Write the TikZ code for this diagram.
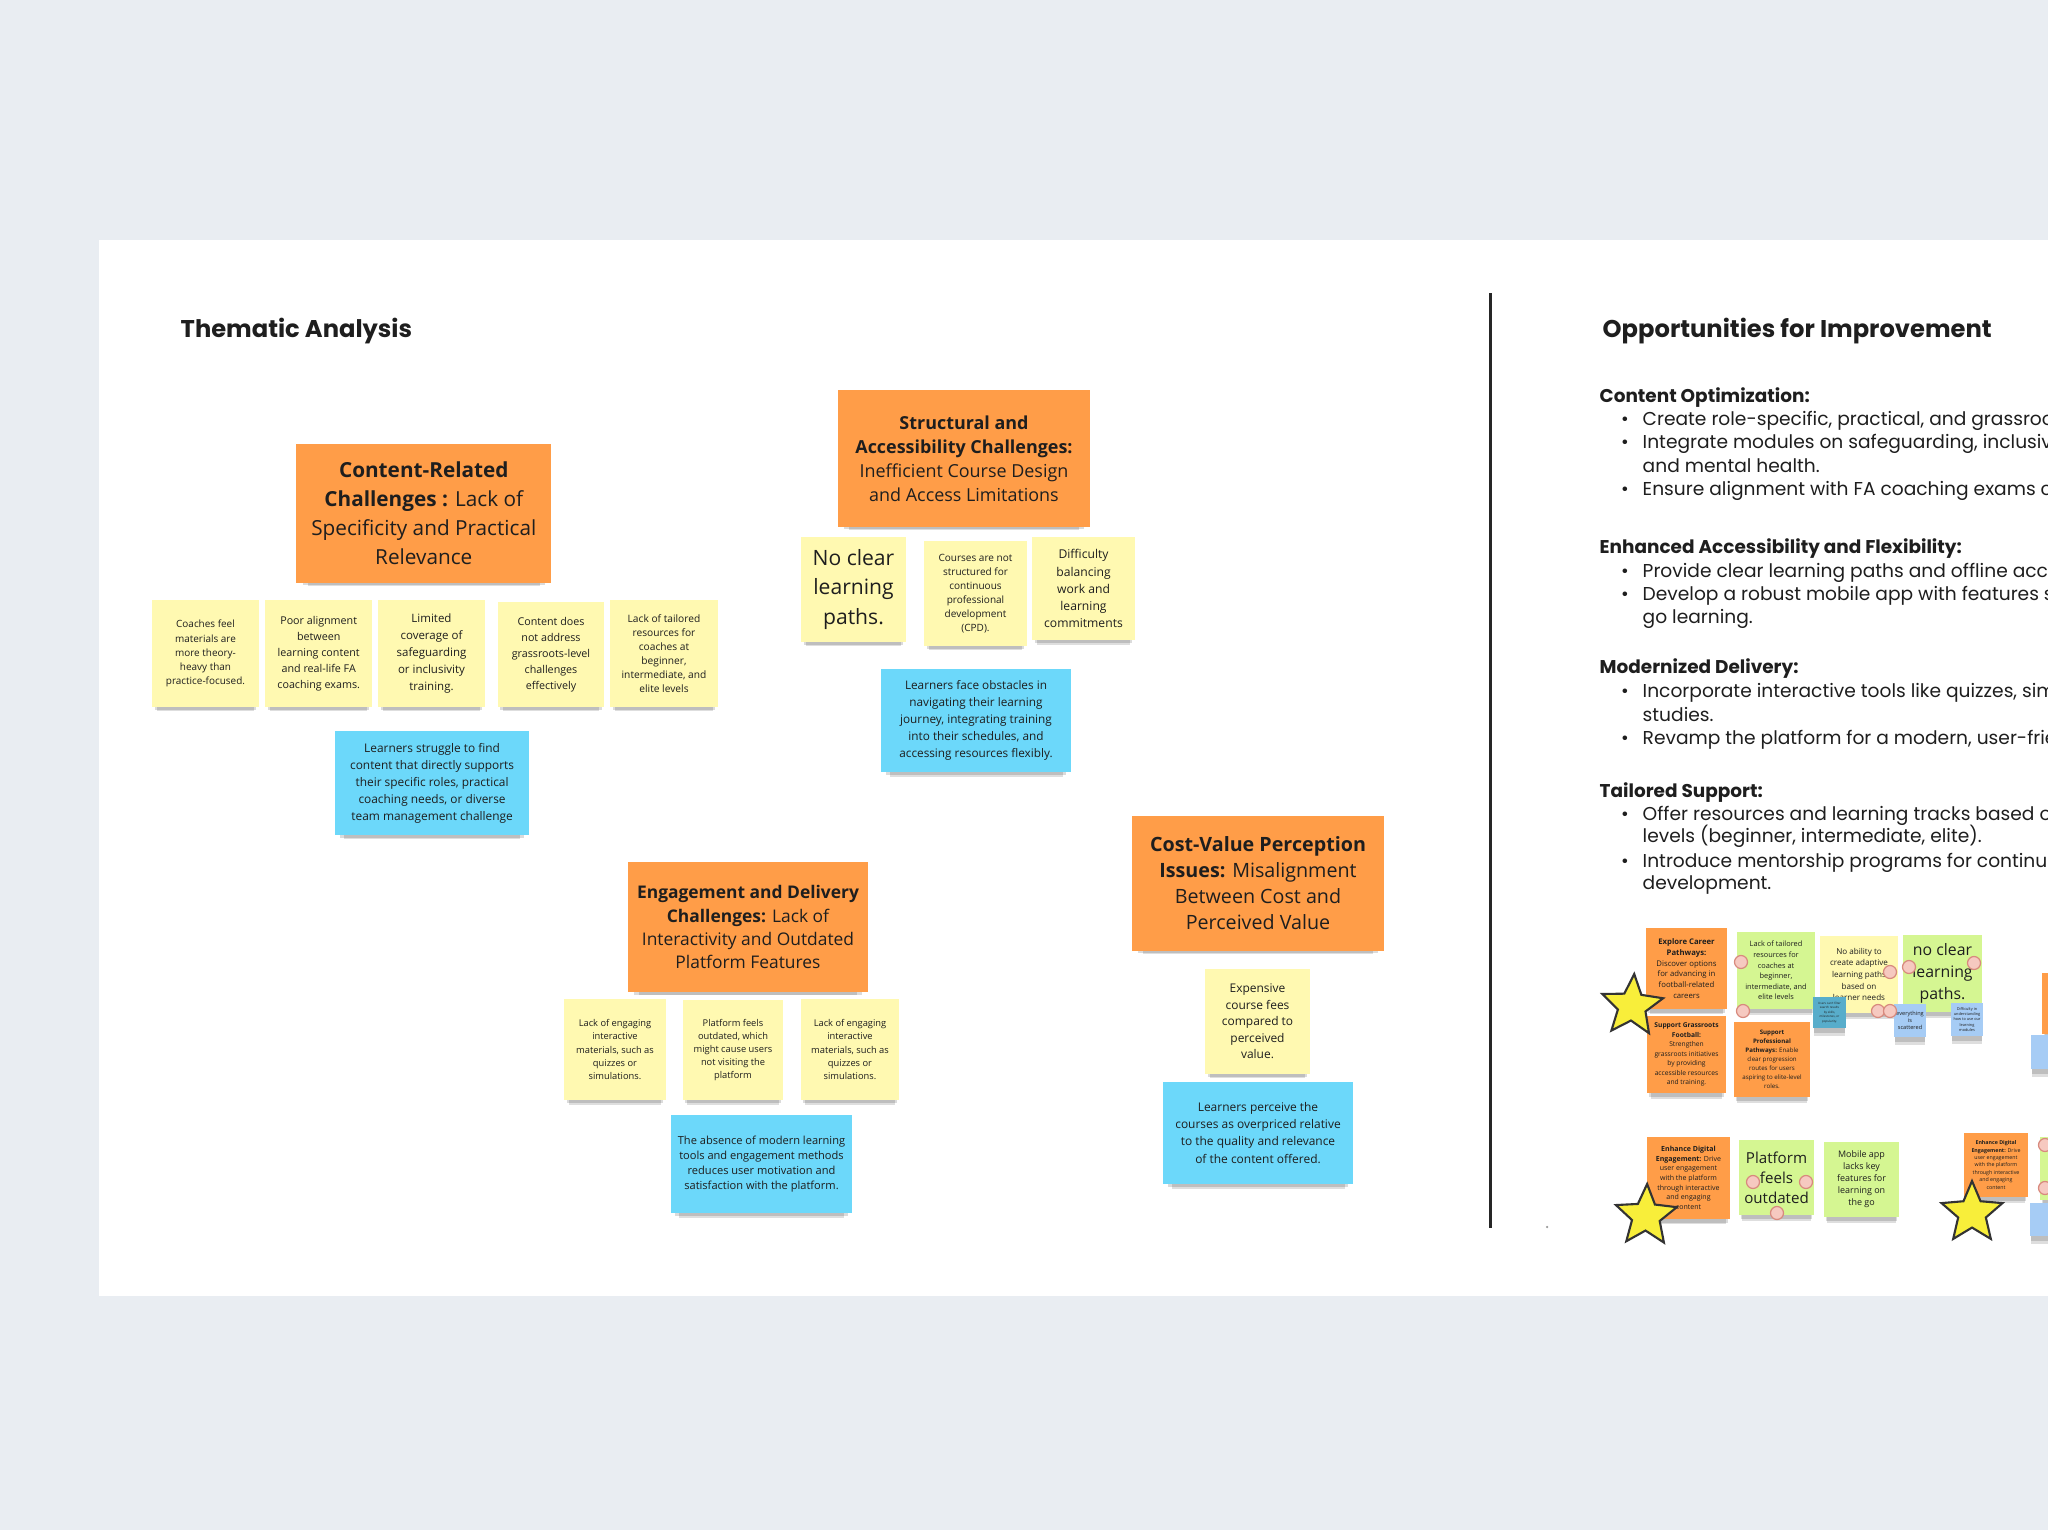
\documentclass[tikz,border=0pt]{standalone}
\usepackage{fontspec}
\setmainfont{Poppins}
\newfontfamily\notefont{Open Sans}
\usetikzlibrary{shapes.geometric,shadows}
\definecolor{pagebg}{HTML}{E9EDF2}
\definecolor{inktext}{HTML}{1E1E1E}
\definecolor{noteorange}{HTML}{FF9D48}
\definecolor{noteyellow}{HTML}{FFF9B1}
\definecolor{noteblue}{HTML}{6CD8FA}
\definecolor{notegreen}{HTML}{D5F692}
\definecolor{noteteal}{HTML}{58ADCB}
\definecolor{notesky}{HTML}{A6CCF5}
\definecolor{dotfill}{HTML}{F6C9C0}
\definecolor{dotline}{HTML}{D88A7E}
\definecolor{starfill}{HTML}{F8EE3A}
\newcommand{\nf}[2]{\notefont\fontsize{#1}{#2}\selectfont}
\newcommand{\pf}[2]{\fontsize{#1}{#2}\selectfont}
\newcommand{\itm}{\llap{\textbullet\hspace{0.14cm}}}

\begin{document}
\begin{tikzpicture}[
  x=0.01cm, y=-0.01cm,
  note shadow/.style={
    general shadow={shadow yshift=-0.10cm, shadow scale=0.91, fill=black, opacity=0.13},
    general shadow={shadow yshift=-0.06cm, shadow scale=0.95, fill=black, opacity=0.14}},
  sticky/.style={inner sep=0pt, align=center, text=inktext, note shadow},
  header/.style={sticky, fill=noteorange},
  idea/.style={sticky, fill=noteyellow},
  insight/.style={sticky, fill=noteblue},
  fresh/.style={sticky, fill=notegreen},
  tiny/.style={sticky, fill=notesky},
  sticker/.style={circle, draw=dotline, fill=dotfill, line width=0.35pt,
    minimum size=0.13cm, inner sep=0pt},
  badge/.style={star, star points=5, star point ratio=2.2, draw=black!80,
    line width=0.6pt, fill=starfill, minimum size=0.64cm, inner sep=0pt},
  bulletline/.style={anchor=base west, inner sep=0pt, text=inktext, font={\pf{5.3}{6.7}}},
  topic/.style={bulletline, font={\bfseries\pf{5.25}{6.7}}},
  title/.style={anchor=base west, inner sep=0pt, text=inktext, font={\bfseries\pf{6.88}{8}}}
]
\useasboundingbox (0,0) rectangle (2048,1530);
\clip (0,0) rectangle (2048,1530);
\fill[pagebg] (0,0) rectangle (2048,1530);
\fill[white] (99,240) rectangle (2048,1296);

\node[title] (thematic) at (180,337) {Thematic Analysis};
\node[title] (improve) at (1602,337) {Opportunities for Improvement};
\draw[line width=0.85pt, black!85] (1490,293) -- (1490,1228);
\node[circle, fill=black!40, inner sep=0pt, minimum size=0.025cm] (speck) at (1547,1227) {};

% content-related
\node[header, minimum width=2.55cm, minimum height=1.39cm, font={\nf{5.9}{8.25}}] (content) at (423.8,513.5)
  {\textbf{Content-Related}\\\textbf{Challenges :} Lack of\\Specificity and Practical\\Relevance};
\node[idea, minimum width=1.07cm, minimum height=1.07cm, font={\nf{2.83}{4}}] (content1) at (205.5,653.5)
  {Coaches feel\\materials are\\more theory-\\heavy than\\practice-focused.};
\node[idea, minimum width=1.065cm, minimum height=1.07cm, font={\nf{3.05}{4.55}}] (content2) at (318.7,653.5)
  {Poor alignment\\between\\learning content\\and real-life FA\\coaching exams.};
\node[idea, minimum width=1.065cm, minimum height=1.07cm, font={\nf{3.27}{4.85}}] (content3) at (431.5,653.5)
  {Limited\\coverage of\\safeguarding\\or inclusivity\\training.};
\node[idea, minimum width=1.065cm, minimum height=1.05cm, font={\nf{3.05}{4.55}}] (content4) at (551,654.5)
  {Content does\\not address\\grassroots-level\\challenges\\effectively};
\node[idea, minimum width=1.07cm, minimum height=1.07cm, font={\nf{2.9}{4}}] (content5) at (664,653.5)
  {Lack of tailored\\resources for\\coaches at\\beginner,\\intermediate, and\\elite levels};
\node[insight, minimum width=1.94cm, minimum height=1.04cm, font={\nf{3.38}{4.85}}] (contentb) at (432.1,783)
  {Learners struggle to find\\content that directly supports\\their specific roles, practical\\coaching needs, or diverse\\team management challenge};

% structural and accessibility
\node[header, minimum width=2.52cm, minimum height=1.37cm, font={\nf{5.1}{6.8}}] (struct) at (964,458.5)
  {\textbf{Structural and}\\\textbf{Accessibility Challenges:}\\Inefficient Course Design\\and Access Limitations};
\node[idea, minimum width=1.05cm, minimum height=1.05cm, font={\nf{6}{8.25}}] (struct1) at (853.5,589.5)
  {No clear\\learning\\paths.};
\node[idea, minimum width=1.03cm, minimum height=1.05cm, font={\nf{2.85}{4}}] (struct2) at (975.5,593.5)
  {Courses are not\\structured for\\continuous\\professional\\development\\(CPD).};
\node[idea, minimum width=1.03cm, minimum height=1.03cm, font={\nf{3.45}{4.85}}] (struct3) at (1083.5,588.5)
  {Difficulty\\balancing\\work and\\learning\\commitments};
\node[insight, minimum width=1.90cm, minimum height=1.03cm, font={\nf{3.35}{4.85}}] (structb) at (976,720.5)
  {Learners face obstacles in\\navigating their learning\\journey, integrating training\\into their schedules, and\\accessing resources flexibly.};

% engagement and delivery
\node[header, minimum width=2.40cm, minimum height=1.30cm, font={\nf{4.95}{6.55}}] (engage) at (748,927)
  {\textbf{Engagement and Delivery}\\\textbf{Challenges:} Lack of\\Interactivity and Outdated\\Platform Features};
\node[idea, minimum width=1.02cm, minimum height=1.01cm, font={\nf{2.65}{3.7}}] (engage1) at (615,1049.5)
  {Lack of engaging\\interactive\\materials, such as\\quizzes or\\simulations.};
\node[idea, minimum width=1.00cm, minimum height=1.00cm, font={\nf{2.65}{3.7}}] (engage2) at (733,1050)
  {Platform feels\\outdated, which\\might cause users\\not visiting the\\platform};
\node[idea, minimum width=0.98cm, minimum height=1.01cm, font={\nf{2.65}{3.7}}] (engage3) at (850,1049.5)
  {Lack of engaging\\interactive\\materials, such as\\quizzes or\\simulations.};
\node[insight, minimum width=1.81cm, minimum height=0.98cm, font={\nf{3.15}{4.25}}] (engageb) at (761.5,1164)
  {The absence of modern learning\\tools and engagement methods\\reduces user motivation and\\satisfaction with the platform.};

% cost-value
\node[header, minimum width=2.52cm, minimum height=1.35cm, font={\nf{5.6}{7.4}}] (cost) at (1258,883.5)
  {\textbf{Cost-Value Perception}\\\textbf{Issues:} Misalignment\\Between Cost and\\Perceived Value};
\node[idea, minimum width=1.05cm, minimum height=1.05cm, font={\nf{3.4}{4.7}}] (cost1) at (1257.5,1021.5)
  {Expensive\\course fees\\compared to\\perceived\\value.};
\node[insight, minimum width=1.90cm, minimum height=1.02cm, font={\nf{3.4}{4.85}}] (costb) at (1258,1133)
  {Learners perceive the\\courses as overpriced relative\\to the quality and relevance\\of the content offered.};

% opportunities text
\node[topic] (optA) at (1599,402) {Content Optimization:};
\node[bulletline] (optA1) at (1642,425) {\itm Create role-specific, practical, and grassroots};
\node[bulletline] (optA2) at (1642,448) {\itm Integrate modules on safeguarding, inclusivity,};
\node[bulletline] (optA2b) at (1642,472) {and mental health.};
\node[bulletline] (optA3) at (1642,495) {\itm Ensure alignment with FA coaching exams c};
\node[topic] (optB) at (1599,553) {Enhanced Accessibility and Flexibility:};
\node[bulletline] (optB1) at (1642,577) {\itm Provide clear learning paths and offline access};
\node[bulletline] (optB2) at (1642,600) {\itm Develop a robust mobile app with features such};
\node[bulletline] (optB2b) at (1642,623) {go learning.};
\node[topic] (optC) at (1599,673) {Modernized Delivery:};
\node[bulletline] (optC1) at (1642,697) {\itm Incorporate interactive tools like quizzes, simulations,};
\node[bulletline] (optC1b) at (1642,721) {studies.};
\node[bulletline] (optC2) at (1642,744) {\itm Revamp the platform for a modern, user-friendly};
\node[topic] (optD) at (1599,797) {Tailored Support:};
\node[bulletline] (optD1) at (1642,820) {\itm Offer resources and learning tracks based on};
\node[bulletline] (optD1b) at (1642,842) {levels (beginner, intermediate, elite).};
\node[bulletline] (optD2) at (1642,867) {\itm Introduce mentorship programs for continuous};
\node[bulletline] (optD2b) at (1642,889) {development.};

% opportunity stickies
\node[header, minimum width=0.81cm, minimum height=0.81cm, font={\nf{2.2}{3.05}}] (career) at (1686.5,968.5)
  {\textbf{Explore Career}\\\textbf{Pathways:}\\Discover options\\for advancing in\\football-related\\careers};
\node[header, minimum width=0.79cm, minimum height=0.77cm, font={\nf{1.9}{2.7}}] (grassroots) at (1686.5,1054.5)
  {\textbf{Support Grassroots}\\\textbf{Football:}\\Strengthen\\grassroots initiatives\\by providing\\accessible resources\\and training.};
\node[fresh, minimum width=0.78cm, minimum height=0.77cm, font={\nf{2.1}{3}}] (tailored) at (1776,970.5)
  {Lack of tailored\\resources for\\coaches at\\beginner,\\intermediate, and\\elite levels};
\node[header, minimum width=0.76cm, minimum height=0.75cm, font={\nf{1.75}{2.55}}] (profpath) at (1772,1059.5)
  {\textbf{Support}\\\textbf{Professional}\\\textbf{Pathways:} Enable\\clear progression\\routes for users\\aspiring to elite-level\\roles.};
\node[idea, minimum width=0.78cm, minimum height=0.77cm, font={\nf{2.3}{3.3}}] (adaptive) at (1859,974.5)
  {No ability to\\create adaptive\\learning paths\\based on\\learner needs};
\node[fresh, minimum width=0.79cm, minimum height=0.77cm, font={\nf{4.5}{6.2}}] (nopaths) at (1942.5,973.5)
  {no clear\\learning\\paths.};
\node[sticky, fill=noteteal, minimum width=0.33cm, minimum height=0.31cm, font={\nf{0.85}{1.25}}] (filter) at (1829.5,1012.5)
  {Users can't filter\\search results\\by skills,\\milestones, or\\popularity.};
\node[tiny, minimum width=0.32cm, minimum height=0.33cm, font={\nf{1.6}{2}}] (scattered) at (1910,1020.5)
  {everything\\is\\scattered};
\node[tiny, minimum width=0.32cm, minimum height=0.33cm, font={\nf{1.1}{1.55}}] (modules) at (1967,1019.5)
  {Difficulty in\\understanding\\how to use our\\learning\\modules};
\node[header, minimum width=0.62cm, minimum height=0.61cm] (edgeorange) at (2073,1003.5) {};
\node[tiny, minimum width=0.33cm, minimum height=0.34cm] (edgesky) at (2047.5,1052) {};

\node[header, minimum width=0.83cm, minimum height=0.82cm, font={\nf{2}{2.75}}] (digital) at (1688.5,1178)
  {\textbf{Enhance Digital}\\\textbf{Engagement:} Drive\\user engagement\\with the platform\\through interactive\\and engaging\\content};
\node[fresh, minimum width=0.75cm, minimum height=0.75cm, font={\nf{4.3}{5.7}}] (outdated) at (1776.5,1177.5)
  {Platform\\feels\\outdated};
\node[fresh, minimum width=0.75cm, minimum height=0.75cm, font={\nf{2.55}{3.4}}] (mobile) at (1861.5,1179.5)
  {Mobile app\\lacks key\\features for\\learning on\\the go};
\node[header, minimum width=0.64cm, minimum height=0.64cm, font={\nf{1.5}{2.1}}] (digital2) at (1996,1165)
  {\textbf{Enhance Digital}\\\textbf{Engagement:} Drive\\user engagement\\with the platform\\through interactive\\and engaging\\content};
\node[fresh, minimum width=0.64cm, minimum height=0.63cm] (edgegreen) at (2072,1168.5) {};
\node[tiny, minimum width=0.33cm, minimum height=0.33cm] (edgesky2) at (2046.5,1219.5) {};

\foreach \px/\py [count=\i] in {1741/962, 1743/1011, 1890/972, 1878/1011, 1890/1011,
    1909/967, 1974/963, 1753/1182, 1806/1182, 1777/1213, 2045/1145, 2045/1188}
  \node[sticker] (dot\i) at (\px,\py) {};

\node[badge, rotate=-4] (star1) at (1632,1006) {};
\node[badge, rotate=-2] (star2) at (1646,1216) {};
\node[badge] (star3) at (1972,1213) {};
\end{tikzpicture}
\end{document}
